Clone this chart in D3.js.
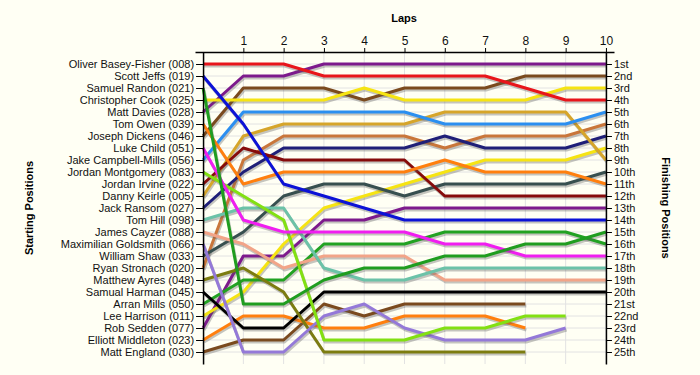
<!DOCTYPE html>
<html>
<head>
<meta charset="utf-8">
<script src="https://cdn.jsdelivr.net/npm/d3@7"></script>
<style>
  body { margin: 0; background: #fffff4; }
  svg { display: block; font-family: "Liberation Sans", Arial, sans-serif; }
</style>
</head>
<body>
<script>
// starting grid order
const drivers = [
  "Oliver Basey-Fisher (008)", "Scott Jeffs (019)", "Samuel Randon (021)",
  "Christopher Cook (025)", "Matt Davies (028)", "Tom Owen (039)",
  "Joseph Dickens (046)", "Luke Child (051)", "Jake Campbell-Mills (056)",
  "Jordan Montgomery (083)", "Jordan Irvine (022)", "Danny Keirle (005)",
  "Jack Ransom (027)", "Tom Hill (098)", "James Cayzer (088)",
  "Maximilian Goldsmith (066)", "William Shaw (033)", "Ryan Stronach (020)",
  "Matthew Ayres (048)", "Samual Harman (045)", "Arran Mills (050)",
  "Lee Harrison (011)", "Rob Sedden (077)", "Elliott Middleton (023)",
  "Matt England (030)"
];

// position at lap 0..n (lapped cars stop early)
const lapPositions = [
  [1, 1, 1, 2, 2, 2, 2, 2, 3, 4, 4],
  [2, 6, 11, 12, 13, 14, 14, 14, 14, 14, 14],
  [3, 21, 21, 19, 18, 18, 17, 17, 16, 16, 15],
  [4, 4, 4, 4, 3, 4, 4, 4, 4, 3, 3],
  [5, 2, 2, 1, 1, 1, 1, 1, 1, 1, 1],
  [6, 11, 10, 10, 10, 10, 9, 10, 10, 10, 11],
  [7, 3, 3, 3, 4, 3, 3, 3, 2, 2, 2],
  [8, 14, 15, 15, 15, 15, 16, 16, 17, 17, 17],
  [9, 5, 5, 5, 5, 5, 6, 6, 6, 6, 5],
  [10, 12, 14, 24, 24, 24, 23, 23, 22, 22],
  [11, 8, 9, 9, 9, 9, 12, 12, 12, 12, 12],
  [12, 7, 6, 6, 6, 6, 5, 5, 5, 5, 9],
  [13, 10, 8, 8, 8, 8, 7, 8, 8, 8, 7],
  [14, 13, 13, 18, 19, 19, 18, 18, 18, 18, 18],
  [15, 16, 18, 17, 17, 17, 19, 19, 19, 19, 19],
  [16, 25, 25, 22, 21, 23, 24, 24, 24, 23],
  [17, 15, 12, 11, 11, 12, 11, 11, 11, 11, 10],
  [18, 9, 7, 7, 7, 7, 8, 7, 7, 7, 6],
  [19, 18, 20, 25, 25, 25, 25, 25, 25],
  [20, 23, 23, 20, 20, 20, 20, 20, 20, 20, 20],
  [21, 19, 19, 16, 16, 16, 15, 15, 15, 15, 16],
  [22, 20, 16, 13, 12, 11, 10, 9, 9, 9, 8],
  [23, 17, 17, 14, 14, 13, 13, 13, 13, 13, 13],
  [24, 22, 22, 23, 23, 22, 22, 22, 23],
  [25, 24, 24, 21, 22, 21, 21, 21, 21]
];

const lapTicks = [1, 2, 3, 4, 5, 6, 7, 8, 9, 10];
const finishLabels = [
  "1st", "2nd", "3rd", "4th", "5th", "6th", "7th", "8th", "9th", "10th",
  "11th", "12th", "13th", "14th", "15th", "16th", "17th", "18th", "19th", "20th",
  "21st", "22nd", "23rd", "24th", "25th"
];

const palette = [
  "#e8151b", "#0c12d6", "#1f9d1f", "#f6e412", "#7d1a8c", "#ff7f0e",
  "#7a4a1e", "#f01ef0", "#2b8ff0", "#82e012", "#860b0b", "#d6a52a",
  "#1f1f78", "#6cc2a8", "#f2a488", "#9479d8", "#374f4f", "#c9763a",
  "#7c7c10", "#000000", "#22a222", "#f6e412", "#7d1a8c", "#ff7f0e",
  "#7a4a1e"
];

const width = 700, height = 375;

const svg = d3.select("body").append("svg")
  .attr("width", width)
  .attr("height", height);

const x = d3.scaleLinear().domain([-0.2, 10.2]).range([195, 614]);
const y = d3.scaleLinear().domain([0, 26]).range([52, 364]);
const color = d3.scaleOrdinal().domain(drivers).range(palette);
const rows = d3.range(1, 26);

// grid
svg.append("g")
  .selectAll("line")
  .data(lapTicks)
  .join("line")
  .attr("x1", d => x(d)).attr("x2", d => x(d))
  .attr("y1", y(0)).attr("y2", y(26))
  .attr("stroke", "#e2e2e2");

svg.append("g")
  .selectAll("line")
  .data(rows)
  .join("line")
  .attr("x1", x(0)).attr("x2", x(10))
  .attr("y1", d => y(d)).attr("y2", d => y(d))
  .attr("stroke", "#e2e2e2");

// lines
const line = d3.line()
  .x((d, i) => x(i))
  .y(d => y(d));

const lines = svg.append("g")
  .attr("fill", "none")
  .attr("stroke-width", 3)
  .attr("stroke-linejoin", "round");

lapPositions.slice().reverse().forEach((pos, k) => {
  const name = drivers[drivers.length - 1 - k];
  lines.append("path")
    .attr("d", line(pos))
    .attr("transform", "translate(1,2)")
    .attr("stroke", "rgba(90,90,90,0.35)");
  lines.append("path")
    .attr("d", line(pos))
    .attr("stroke", color(name));
});

// axes
const leftAxis = svg.append("g")
  .attr("transform", `translate(${x(0)},0)`)
  .call(d3.axisLeft(y).tickValues(rows).tickFormat(d => drivers[d - 1])
    .tickSize(7).tickSizeOuter(0).tickPadding(2));

const rightAxis = svg.append("g")
  .attr("transform", `translate(${x(10)},0)`)
  .call(d3.axisRight(y).tickValues(rows).tickFormat(d => finishLabels[d - 1])
    .tickSize(6).tickSizeOuter(0).tickPadding(2));

const lapAxis = svg.append("g")
  .attr("transform", `translate(0,${y(0)})`)
  .call(d3.axisTop(x).tickValues(lapTicks).tickSize(4).tickSizeOuter(0).tickPadding(3));

[leftAxis, rightAxis].forEach(g => g.selectAll("text")
  .attr("font-size", 11)
  .attr("font-family", "Liberation Sans, Arial, sans-serif")
  .attr("fill", "#111"));
lapAxis.selectAll("text")
  .attr("font-size", 12)
  .attr("font-family", "Liberation Sans, Arial, sans-serif")
  .attr("fill", "#111");
[leftAxis, rightAxis, lapAxis].forEach(g => {
  g.select(".domain").attr("stroke", "#000").attr("stroke-width", 1.5);
  g.selectAll(".tick line").attr("stroke", "#000");
});

// titles
svg.append("text")
  .attr("x", 404).attr("y", 22)
  .attr("text-anchor", "middle")
  .attr("font-size", 11).attr("font-weight", "bold")
  .text("Laps");

svg.append("text")
  .attr("transform", "translate(33,208) rotate(-90)")
  .attr("text-anchor", "middle")
  .attr("font-size", 11).attr("font-weight", "bold")
  .text("Starting Positions");

svg.append("text")
  .attr("transform", "translate(662,208) rotate(90)")
  .attr("text-anchor", "middle")
  .attr("font-size", 11).attr("font-weight", "bold")
  .text("Finishing Positions");
</script>
</body>
</html>
